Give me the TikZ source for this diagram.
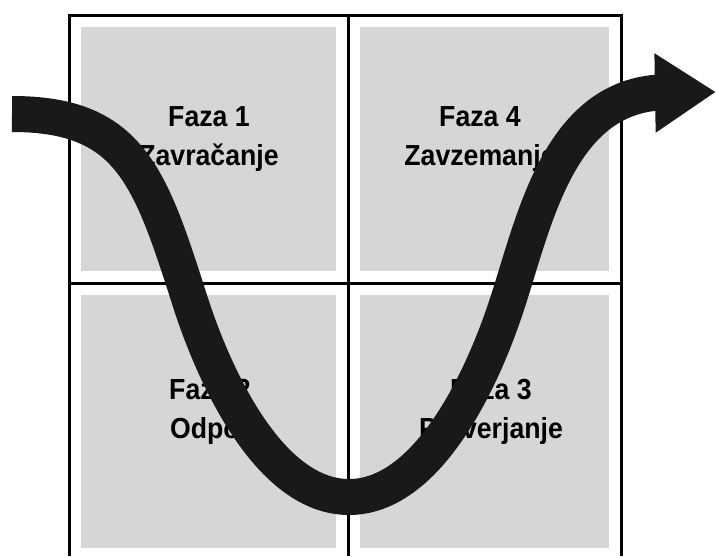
\documentclass[tikz,border=0pt]{standalone}
\usepackage{fontspec}
\setmainfont{Liberation Sans}
\newfontfamily\fazafont[FakeStretch=0.92]{Liberation Sans}
\usetikzlibrary{arrows.meta}
\definecolor{cellgray}{gray}{0.84}
\definecolor{bandgray}{gray}{0.10}
\tikzset{
  fazalabel/.style={align=center, inner sep=0pt,
    font=\fazafont\bfseries\fontsize{16.5}{22}\selectfont},
  gridline/.style={line width=0.06cm},
  uband/.style={line width=0.72cm, draw=bandgray,
    -{Triangle[length=1.22cm,width=1.5cm]}}
}
\begin{document}
\begin{tikzpicture}[x=0.02cm,y=0.02cm]
    \useasboundingbox (0,0) rectangle (716,556);
    \foreach \xa/\ya/\xb/\yb in {81/8/336/261, 360/8/609/261, 81/285/336/529, 360/285/609/529}
      \fill[cellgray] (\xa,\ya) rectangle (\xb,\yb);
    \draw[gridline] (69,0) -- (69,541) -- (621,541) -- (621,0);
    \draw[gridline] (348,0) -- (348,541);
    \draw[gridline] (69,273) -- (621,273);
    \node[fazalabel] (faza1) at (209,417) {Faza 1\\Zavračanje};
    \node[fazalabel] (faza4) at (480,417) {Faza 4\\Zavzemanje};
    \node[fazalabel] (faza2) at (210,144) {Faza 2\\Odpor};
    \node[fazalabel] (faza3) at (491,144) {Faza 3\\Preverjanje};
    \coordinate (in) at (12,442);
    \coordinate (low) at (349,59);
    \coordinate (out) at (716,464);
    \draw[uband] (in) .. controls (130,442) and (150,380) .. (190,255)
      .. controls (215,177) and (270,59) .. (low)
      .. controls (428,59) and (483,177) .. (508,255)
      .. controls (534,335) and (558,452) .. (653,463) -- (out);
  \end{tikzpicture}
\end{document}
